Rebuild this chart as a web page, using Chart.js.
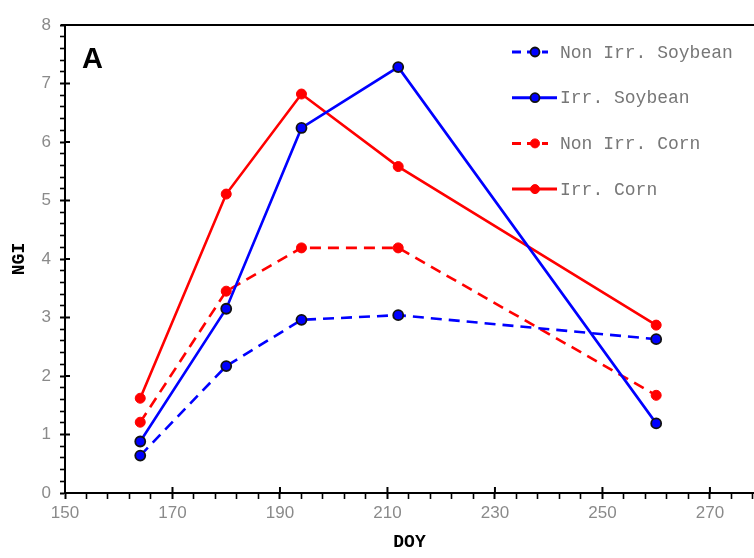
<!DOCTYPE html>
<html>
<head>
<meta charset="utf-8">
<script src="https://cdn.jsdelivr.net/npm/chart.js@4.4.1/dist/chart.umd.min.js"></script>
<style>
    html, body { margin: 0; padding: 0; background: #fff; }
    #wrap { width: 754px; height: 558px; }
</style>
</head>
<body>
<div id="wrap"><canvas id="ngiChart" width="754" height="558"></canvas></div>
<script>
// DOY sampling dates and NGI values
const doy = [164, 180, 194, 212, 260];
const nonIrrSoybean = [0.64, 2.17, 2.96, 3.04, 2.63];
const irrSoybean = [0.88, 3.15, 6.24, 7.28, 1.19];
const nonIrrCorn = [1.21, 3.45, 4.19, 4.19, 1.67];
const irrCorn = [1.62, 5.11, 6.82, 5.58, 2.87];

const seriesNames = ['Non Irr. Soybean', 'Irr. Soybean', 'Non Irr. Corn', 'Irr. Corn'];
const xTicks = [150, 170, 190, 210, 230, 250, 270];
const yTicks = [0, 1, 2, 3, 4, 5, 6, 7, 8];

const BLUE = '#0000ff';
const RED = '#ff0000';
const DASH = [11, 7];
const TICK_FONT = { family: '"Liberation Sans", Arial, sans-serif', size: 17 };
const TITLE_FONT = { family: '"Liberation Mono", "Courier New", monospace', size: 18, weight: 'bold' };

function toPoints(values) {
    return doy.map((d, i) => ({ x: d, y: values[i] }));
}

function makeDataset(label, values, color, dashed, soy) {
    return {
        label: label,
        data: toPoints(values),
        borderColor: color,
        backgroundColor: color,
        borderWidth: 2.6,
        borderDash: dashed ? DASH : [],
        pointRadius: 5,
        pointBorderWidth: soy ? 1.8 : 1,
        pointBorderColor: soy ? '#111' : color,
        pointBackgroundColor: color,
        tension: 0
    };
}

// top frame line, inner half of major ticks, panel letter and the legend
const decorations = {
    id: 'decorations',
    afterDraw(chart) {
        const { ctx, chartArea, scales } = chart;
        ctx.save();
        ctx.strokeStyle = '#000';
        ctx.lineWidth = 2;
        ctx.beginPath();
        ctx.moveTo(chartArea.left - 4, chartArea.top);
        ctx.lineTo(chart.width, chartArea.top);
        ctx.stroke();

        // major ticks cross the axis line
        ctx.lineWidth = 2;
        ctx.beginPath();
        xTicks.forEach(v => {
            const px = scales.x.getPixelForValue(v);
            ctx.moveTo(px, chartArea.bottom);
            ctx.lineTo(px, chartArea.bottom - 6);
        });
        yTicks.forEach(v => {
            if (v === 8) return;
            const py = scales.y.getPixelForValue(v);
            ctx.moveTo(chartArea.left, py);
            ctx.lineTo(chartArea.left + 5, py);
        });
        ctx.stroke();

        ctx.fillStyle = '#000';
        ctx.font = 'bold 29px "Liberation Sans", Arial, sans-serif';
        ctx.textBaseline = 'middle';
        ctx.fillText('A', 82, 60);

        chart.data.datasets.forEach((ds, i) => {
            const y = 52 + i * 45.7;
            ctx.strokeStyle = ds.borderColor;
            ctx.lineWidth = 3;
            ctx.setLineDash(ds.borderDash.length ? [9, 6] : []);
            ctx.beginPath();
            ctx.moveTo(512, y);
            ctx.lineTo(ds.borderDash.length ? 548 : 557, y);
            ctx.stroke();
            ctx.setLineDash([]);
            ctx.beginPath();
            ctx.arc(535, y, 4.5, 0, Math.PI * 2);
            ctx.fillStyle = ds.pointBackgroundColor;
            ctx.fill();
            ctx.lineWidth = ds.pointBorderWidth;
            ctx.strokeStyle = ds.pointBorderColor;
            ctx.stroke();
            ctx.fillStyle = '#777';
            ctx.font = '18px "Liberation Mono", "Courier New", monospace';
            ctx.textBaseline = 'middle';
            ctx.fillText(ds.label, 560, y + 1);
        });
        ctx.restore();
    }
};

const ctx = document.getElementById('ngiChart');
new Chart(ctx, {
    type: 'line',
    data: {
        datasets: [
            makeDataset(seriesNames[0], nonIrrSoybean, BLUE, true, true),
            makeDataset(seriesNames[1], irrSoybean, BLUE, false, true),
            makeDataset(seriesNames[2], nonIrrCorn, RED, true, false),
            makeDataset(seriesNames[3], irrCorn, RED, false, false)
        ]
    },
    options: {
        responsive: false,
        animation: false,
        layout: { autoPadding: false, padding: { top: 25, right: 0, left: 0, bottom: 0 } },
        plugins: {
            legend: { display: false },
            tooltip: { enabled: false }
        },
        scales: {
            x: {
                type: 'linear',
                min: 150,
                max: 278.2,
                afterFit(scale) {
                    scale.height = 65;
                    scale.paddingRight = 0;
                    scale.paddingLeft = 0;
                },
                afterBuildTicks(scale) {
                    const t = [];
                    for (let v = 150; v <= 278; v += 4) t.push({ value: v });
                    scale.ticks = t;
                },
                border: { color: '#000', width: 2 },
                grid: {
                    drawOnChartArea: false,
                    tickLength: 6,
                    tickColor: '#000',
                    tickWidth: c => (c.tick && xTicks.includes(c.tick.value) ? 2 : 1.6)
                },
                ticks: {
                    autoSkip: false,
                    maxRotation: 0,
                    padding: 4,
                    color: '#8a8a8a',
                    font: TICK_FONT,
                    callback: v => (xTicks.includes(v) ? String(v) : '')
                },
                title: {
                    display: true,
                    text: 'DOY',
                    color: '#000',
                    padding: { top: 6, bottom: 5 },
                    font: TITLE_FONT
                }
            },
            y: {
                type: 'linear',
                min: 0,
                max: 8,
                afterFit(scale) { scale.width = 65; },
                afterBuildTicks(scale) {
                    const t = [];
                    for (let k = 0; k <= 40; k++) t.push({ value: k / 5 });
                    scale.ticks = t;
                },
                border: { color: '#000', width: 2 },
                grid: {
                    drawOnChartArea: false,
                    tickLength: 5,
                    tickColor: '#000',
                    tickWidth: c => (c.tick && yTicks.includes(c.tick.value) ? 2 : 1.6)
                },
                ticks: {
                    autoSkip: false,
                    padding: 9,
                    color: '#8a8a8a',
                    font: TICK_FONT,
                    callback: v => (yTicks.includes(v) ? String(v) : '')
                },
                title: {
                    display: true,
                    text: 'NGI',
                    color: '#000',
                    padding: { top: 9, bottom: 4 },
                    font: TITLE_FONT
                }
            }
        }
    },
    plugins: [decorations]
});
</script>
</body>
</html>
